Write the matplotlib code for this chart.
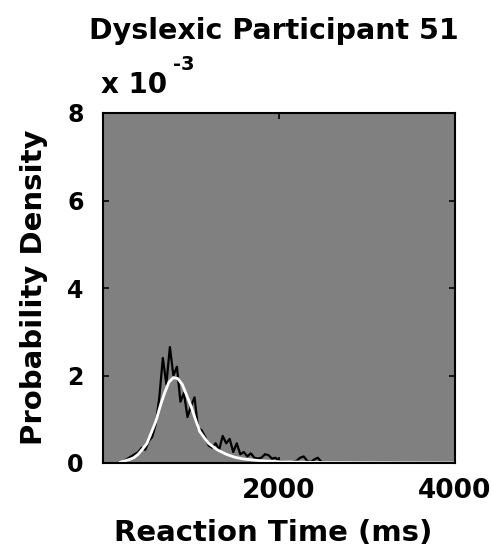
import numpy as np
import matplotlib.pyplot as plt

rt_emp = np.arange(200, 2601, 40)
dens_emp = [0.0, 0.05, 0.1, 0.15, 0.2, 0.25, 0.35, 0.3, 0.5, 0.6,
            0.9, 1.5, 2.4, 1.8, 2.65, 2.0, 2.2, 1.4, 1.6, 1.05,
            1.3, 1.5, 0.8, 0.75, 0.6, 0.4, 0.35, 0.45, 0.3, 0.62,
            0.45, 0.55, 0.25, 0.45, 0.2, 0.25, 0.15, 0.22, 0.12, 0.1,
            0.12, 0.2, 0.18, 0.1, 0.12, 0.05, 0.04, 0.03, 0.02, 0.03,
            0.05, 0.12, 0.15, 0.05, 0.02, 0.08, 0.12, 0.03, 0.0, 0.0,
            0.0]

# fitted curve (x 1e-3)
rt_fit = [200, 250, 300, 350, 400, 450, 500, 550, 600, 650, 700, 750, 800,
          850, 900, 950, 1000, 1050, 1100, 1150, 1200, 1300, 1400, 1500,
          1600, 1800, 2000, 2500, 3000, 4000]
dens_fit = [0.02, 0.05, 0.08, 0.12, 0.2, 0.32, 0.45, 0.7, 0.95, 1.3, 1.6,
            1.85, 1.95, 1.93, 1.8, 1.55, 1.3, 1.0, 0.72, 0.58, 0.45, 0.3,
            0.2, 0.13, 0.09, 0.05, 0.03, 0.01, 0.005, 0.0]

plt.rcParams['font.family'] = ['DejaVu Sans']
plt.rcParams['font.weight'] = 'bold'

W, H = 491, 551
fig = plt.figure(figsize=(W / 100, H / 100), dpi=100)
ax = fig.add_axes([103 / W, 1 - 463 / H, 352 / W, 350 / H])
ax.set_facecolor('#808080')

ax.plot(rt_emp, dens_emp, color='black', lw=1.6)
ax.plot(rt_fit, dens_fit, color='white', lw=2)

ax.set_xlim(0, 4000)
ax.set_ylim(0, 8)
ax.set_xticks([2000, 4000])
ax.set_yticks([0, 2, 4, 6, 8])
ax.tick_params(direction='in', length=4, width=1.2, top=True, right=True)
ax.tick_params(axis='x', labelsize=19, pad=11)
ax.tick_params(axis='y', labelsize=17, pad=14)
for s in ax.spines.values():
    s.set_linewidth(1.5)

fig.text(274 / W, 1 - 31 / H, 'Dyslexic Participant 51', fontsize=20.5,
         fontweight='bold', ha='center', va='center')
fig.text(101 / W, 1 - 93 / H, 'x 10', fontsize=20, fontweight='bold',
         ha='left', va='baseline')
fig.text(173 / W, 1 - 70 / H, '-3', fontsize=14, fontweight='bold',
         ha='left', va='baseline')
fig.text(273 / W, 1 - 533 / H, 'Reaction Time (ms)', fontsize=21,
         fontweight='bold', ha='center', va='center')
fig.text(34 / W, 1 - 287 / H, 'Probability Density', fontsize=21,
         fontweight='bold', ha='center', va='center', rotation=90)

fig.savefig('out.png', dpi=100)
